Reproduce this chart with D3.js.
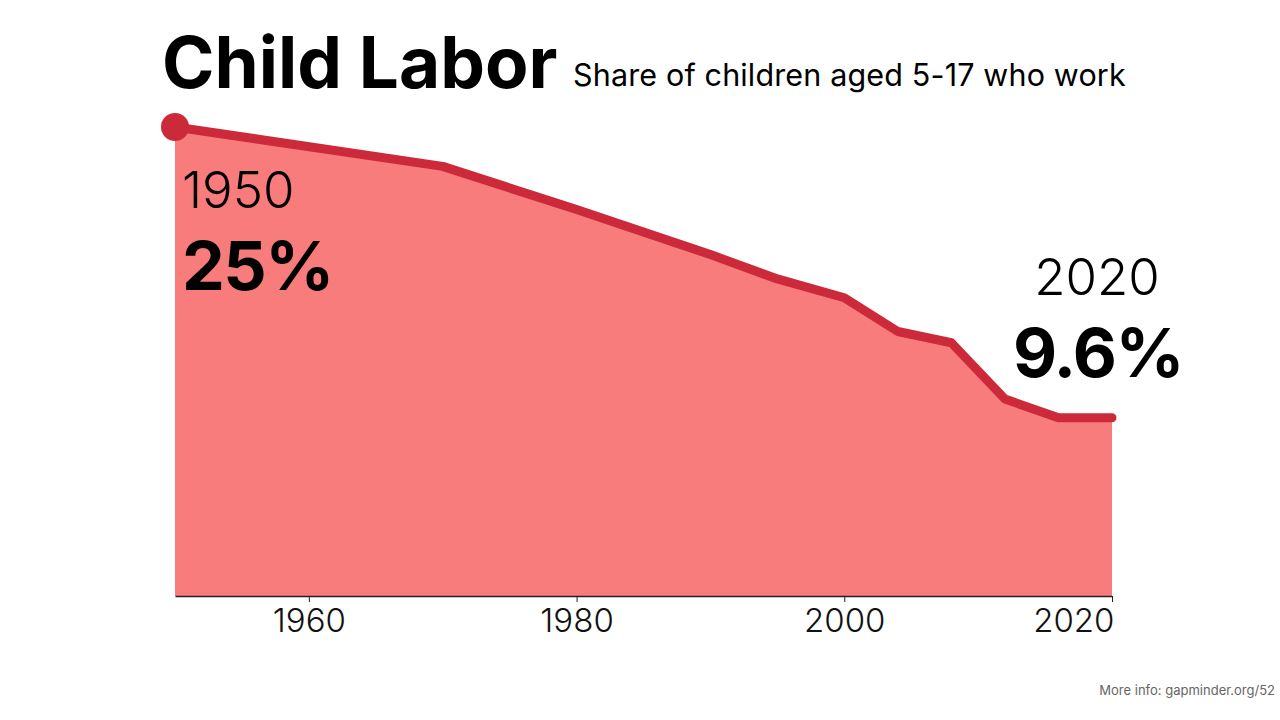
<!DOCTYPE html>
<html>
<head>
<meta charset="utf-8">
<script src="https://cdn.jsdelivr.net/npm/d3@7"></script>
<style>
  html, body { margin: 0; padding: 0; background: #fff; }
  svg { display: block; font-family: Inter, "Noto Sans", sans-serif; }
</style>
</head>
<body>
<svg id="chart" width="1280" height="720"></svg>
<script>
const years = [1950, 1970, 1980, 1990, 1995, 2000, 2004, 2008, 2012, 2016, 2020];
const shares = [25, 22.9, 20.6, 18.2, 16.9, 15.9, 14.1, 13.5, 10.5, 9.5, 9.5];
const tickYears = [1960, 1980, 2000, 2020];
const titleText = "Child Labor";
const subtitleText = "Share of children aged 5-17 who work";
const startLabel = { year: "1950", value: "25%" };
const endLabel = { year: "2020", value: "9.6%" };
const footerText = "More info: gapminder.org/52";

const data = years.map((y, i) => ({ year: y, value: shares[i] }));
const svg = d3.select("#chart");

const x = d3.scaleLinear().domain([1950, 2020]).range([175, 1112]);
const y = d3.scaleLinear().domain([0, 25]).range([596, 127]);

const area = d3.area().x(d => x(d.year)).y0(y(0)).y1(d => y(d.value));
const line = d3.line().x(d => x(d.year)).y(d => y(d.value));

svg.append("path").datum(data).attr("d", area).attr("fill", "#f87c7c");

// axis
const axis = d3.axisBottom(x).tickValues(tickYears).tickFormat(d3.format("d")).tickSize(6).tickSizeOuter(0);
const gx = svg.append("g").attr("transform", `translate(0,${y(0)})`).call(axis);
gx.select(".domain").attr("stroke", "#222").attr("stroke-width", 1.5);
gx.selectAll(".tick line").attr("stroke", "#222").attr("stroke-width", 1);
gx.selectAll(".tick text")
  .attr("y", 36)
  .attr("dy", 0)
  .attr("font-size", 33)
  .attr("font-weight", 300)
  .attr("font-family", "Inter, 'Noto Sans', sans-serif")
  .attr("fill", "#111")
  .attr("text-anchor", d => d === 2020 ? "end" : "middle")
  .attr("dx", d => d === 2020 ? 2 : 0);

svg.append("path").datum(data).attr("d", line)
  .attr("fill", "none").attr("stroke", "#cc2a3a").attr("stroke-width", 9)
  .attr("stroke-linejoin", "round").attr("stroke-linecap", "round");

svg.append("circle").attr("cx", x(data[0].year)).attr("cy", y(data[0].value))
  .attr("r", 14).attr("fill", "#cc2a3a");

// title
svg.append("text").attr("x", 162).attr("y", 88).attr("font-size", 71).attr("font-weight", 700)
  .attr("fill", "#000").text(titleText);
svg.append("text").attr("x", 573).attr("y", 86).attr("font-size", 30.5).attr("font-weight", 400)
  .attr("fill", "#000").attr("letter-spacing", 0.15).text(subtitleText);

// start labels
svg.append("text").attr("x", 182).attr("y", 208).attr("font-size", 51).attr("font-weight", 300)
  .attr("fill", "#000").text(startLabel.year);
svg.append("text").attr("x", 182).attr("y", 290).attr("font-size", 68).attr("font-weight", 700)
  .attr("letter-spacing", -1.5).attr("fill", "#000").text(startLabel.value);

// end labels
svg.append("text").attr("x", 1097).attr("y", 295).attr("text-anchor", "middle").attr("font-size", 51)
  .attr("font-weight", 300).attr("fill", "#000").text(endLabel.year);
svg.append("text").attr("x", 1098).attr("y", 377).attr("text-anchor", "middle").attr("font-size", 68)
  .attr("letter-spacing", -1.5).attr("font-weight", 700).attr("fill", "#000").text(endLabel.value);

// footer
svg.append("text").attr("x", 1275).attr("y", 695).attr("text-anchor", "end").attr("font-size", 13)
  .attr("fill", "#666").text(footerText);
</script>
</body>
</html>
